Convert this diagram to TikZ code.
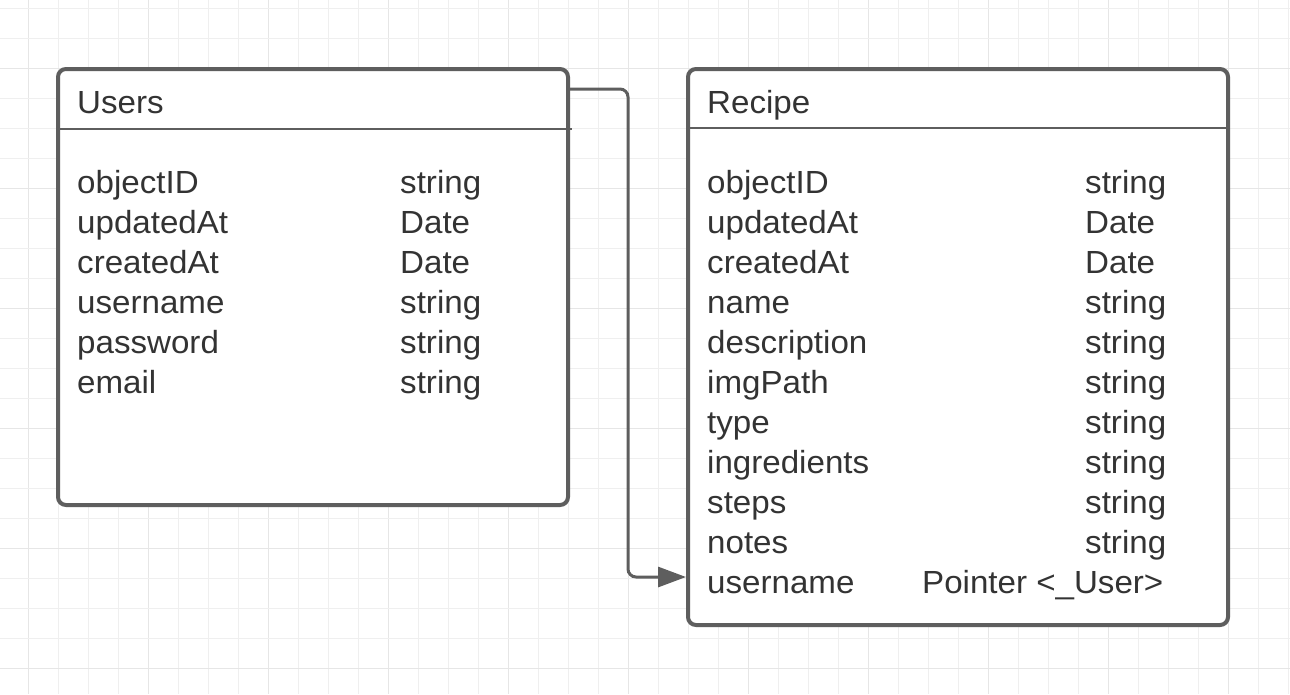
\documentclass[tikz,border=0pt]{standalone}
\usepackage{fontspec}
\setmainfont{Liberation Sans}[FakeStretch=1.035]
\usetikzlibrary{arrows.meta}
\definecolor{gridminor}{HTML}{EFEFEF}
\definecolor{gridmajor}{HTML}{E6E6E6}
\definecolor{boxline}{HTML}{5E5E5E}
\definecolor{txt}{HTML}{333333}
\tikzset{
  entity/.style={draw=boxline, line width=4pt, rounded corners=8pt, fill=white, inner sep=0pt},
  sepline/.style={draw=boxline, line width=2pt},
  lbl/.style={anchor=base west, inner sep=0pt, text=txt, font=\fontsize{32}{32}\selectfont},
  conn/.style={draw=boxline, line width=3pt, rounded corners=8pt, -{Triangle[length=28pt,width=20pt]}},
}
\begin{document}
\begin{tikzpicture}[x=1pt,y=-1pt]
\useasboundingbox (0,0) rectangle (1290,694);
\fill[white] (0,0) rectangle (1290,694);
% grid
\foreach \i in {0,...,42} {
  \pgfmathtruncatemacro{\m}{mod(\i,4)}
  \ifnum\m=0 \draw[gridmajor, line width=1pt] (28+30*\i,0) -- (28+30*\i,694);
  \else \draw[gridminor, line width=1pt] (28+30*\i,0) -- (28+30*\i,694); \fi
}
\foreach \j in {0,...,22} {
  \pgfmathtruncatemacro{\m}{mod(\j+2,4)}
  \ifnum\m=0 \draw[gridmajor, line width=1pt] (0,8+30*\j) -- (1290,8+30*\j);
  \else \draw[gridminor, line width=1pt] (0,8+30*\j) -- (1290,8+30*\j); \fi
}
% boxes
\node[entity, minimum width=510pt, minimum height=436pt] (users) at (313,287) {};
\node[entity, minimum width=540pt, minimum height=556pt] (recipe) at (958,347) {};
\draw[sepline] (users.west |- 0,129) -- (572,129);
\draw[sepline] (recipe.west |- 0,128) -- (recipe.east |- 0,128);
% headers
\node[lbl] (uh) at (77,113) {Users};
\node[lbl] (rh) at (707,113) {Recipe};
% users fields
\foreach \n/\t [count=\k from 0] in {objectID/string, updatedAt/Date, createdAt/Date, username/string, password/string, email/string} {
  \node[lbl] (un\k) at (77,193+40*\k) {\n};
  \node[lbl] (ut\k) at (400,193+40*\k) {\t};
}
% recipe fields
\foreach \n/\t [count=\k from 0] in {objectID/string, updatedAt/Date, createdAt/Date, name/string, description/string, imgPath/string, type/string, ingredients/string, steps/string, notes/string} {
  \node[lbl] (rn\k) at (707,193+40*\k) {\n};
  \node[lbl] (rt\k) at (1085,193+40*\k) {\t};
}
\node[lbl] (rn10) at (707,593) {username};
\node[lbl] (rt10) at (922,593) {Pointer <\_User>};
% connector
\coordinate (s) at (users.east |- 0,89);
\coordinate (e) at (recipe.west |- 0,577);
\draw[conn] (s) -- (628,89) -- (628,577) -- (e);
\end{tikzpicture}
\end{document}
